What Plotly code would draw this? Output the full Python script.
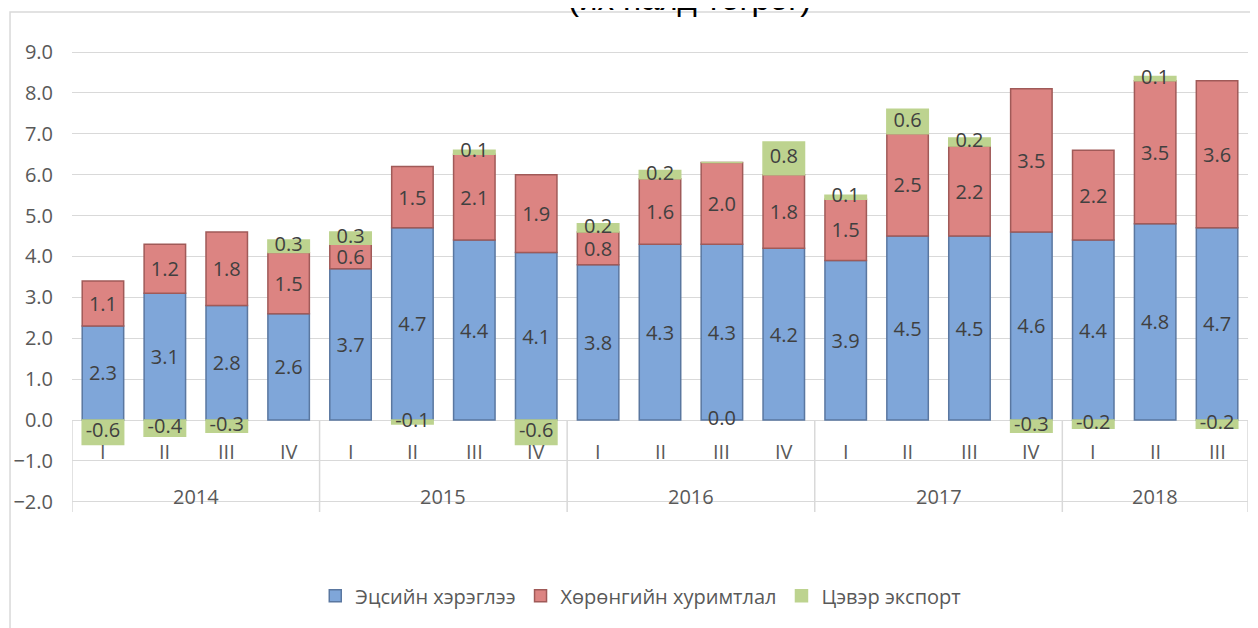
import plotly.graph_objects as go

# ---- data ----
years = ["2014", "2015", "2016", "2017", "2018"]
quarters_per_year = [4, 4, 4, 4, 3]
quarter_names = ["I", "II", "III", "IV"]
consumption = [2.3, 3.1, 2.8, 2.6, 3.7, 4.7, 4.4, 4.1, 3.8, 4.3, 4.3, 4.2, 3.9, 4.5, 4.5, 4.6, 4.4, 4.8, 4.7]
capital = [1.1, 1.2, 1.8, 1.5, 0.6, 1.5, 2.1, 1.9, 0.8, 1.6, 2.0, 1.8, 1.5, 2.5, 2.2, 3.5, 2.2, 3.5, 3.6]
net_export = [-0.6, -0.4, -0.3, 0.3, 0.3, -0.1, 0.1, -0.6, 0.2, 0.2, 0.0, 0.8, 0.1, 0.6, 0.2, -0.3, -0.2, 0.1, -0.2]
series_names = ["Эцсийн хэрэглээ", "Хөрөнгийн хуримтлал", "Цэвэр экспорт"]
title_text = "(их наяд төгрөг)"

quarters = []
for n in quarters_per_year:
    quarters += quarter_names[:n]
idx = list(range(len(quarters)))

FONT = "Open Sans"
LABEL_COL = "#404040"
AXIS_COL = "#595959"
GRID_COL = "#d9d9d9"

fig = go.Figure()
styles = [
    (consumption, "#7fa6d9", "#5a77a0", True),
    (capital, "#dc8482", "#a05a58", True),
    (net_export, "#bdd38f", "#bdd38f", False),
]
for name, (vals, fill, edge, inside_text) in zip(series_names, styles):
    fig.add_trace(go.Bar(
        x=idx, y=vals, name=name,
        marker=dict(color=fill, line=dict(color=edge, width=1.5)),
        width=0.67,
        text=[f"{v:.1f}" for v in vals] if inside_text else None,
        textposition="inside" if inside_text else "none",
        insidetextanchor="middle", textangle=0,
        textfont=dict(family=FONT, size=20, color=LABEL_COL),
        constraintext="none",
        hoverinfo="skip",
    ))

# net export labels: centred on each (possibly tiny) stacked segment
ne_centers = []
for c, k, v in zip(consumption, capital, net_export):
    base = c + k if v > 0 else 0.0
    ne_centers.append(base + v / 2)
fig.add_trace(go.Scatter(
    x=idx, y=ne_centers, mode="text", text=[f"{v:.1f}" for v in net_export],
    textposition="middle center", textfont=dict(family=FONT, size=20, color=LABEL_COL),
    showlegend=False, hoverinfo="skip", cliponaxis=False,
))

# category labels
annotations = []
for i, q in zip(idx, quarters):
    annotations.append(dict(x=i, y=-0.78, xref="x", yref="y", text=q, showarrow=False,
                            font=dict(family=FONT, size=20, color=AXIS_COL)))
shapes = []
start = 0
bounds = [-0.5]
for y, n in zip(years, quarters_per_year):
    center = start + (n - 1) / 2
    annotations.append(dict(x=center, y=-1.88, xref="x", yref="y", text=y, showarrow=False,
                            font=dict(family=FONT, size=20, color=AXIS_COL)))
    start += n
    bounds.append(start - 0.5)
for b in bounds:
    shapes.append(dict(type="line", xref="x", yref="y", x0=b, x1=b, y0=0, y1=-2.25,
                       line=dict(color=GRID_COL, width=1.5), layer="below"))

# title (cut off at top, as in the original)
annotations.append(dict(x=0.5255, y=1.111, xref="paper", yref="paper", text=title_text,
                        showarrow=False, yanchor="middle",
                        font=dict(family="Liberation Sans", size=33, color="#000000")))
# chart border
shapes.append(dict(type="rect", xref="paper", yref="paper", x0=-0.0527, x1=1.2, y0=-0.5, y1=1.0823,
                   line=dict(color=GRID_COL, width=1.5), fillcolor="rgba(0,0,0,0)", layer="below"))

fig.update_layout(
    width=1258, height=628,
    margin=dict(l=64, r=18, t=42, b=124, autoexpand=False),
    paper_bgcolor="white", plot_bgcolor="white",
    barmode="relative", bargap=0.33,
    uniformtext=dict(minsize=20, mode="show"),
    showlegend=True,
    legend=dict(orientation="h", xref="container", yref="container", x=0.503, xanchor="center",
                y=0.064, yanchor="middle",
                font=dict(family=FONT, size=20, color=AXIS_COL), itemwidth=30,
                traceorder="normal"),
    annotations=annotations, shapes=shapes,
    xaxis=dict(range=[-0.5, len(idx) - 0.5], showticklabels=False, showgrid=False,
               zeroline=False, showline=False, fixedrange=True),
    yaxis=dict(range=[-2.25, 9.05], dtick=1, tick0=0, tickformat=".1f",
               showgrid=True, gridcolor=GRID_COL, gridwidth=1.2,
               zeroline=True, zerolinecolor=GRID_COL, zerolinewidth=1.2,
               showline=False, ticklabelstandoff=18,
               tickfont=dict(family=FONT, size=20, color=AXIS_COL), fixedrange=True),
)

fig.write_html("out.html")
